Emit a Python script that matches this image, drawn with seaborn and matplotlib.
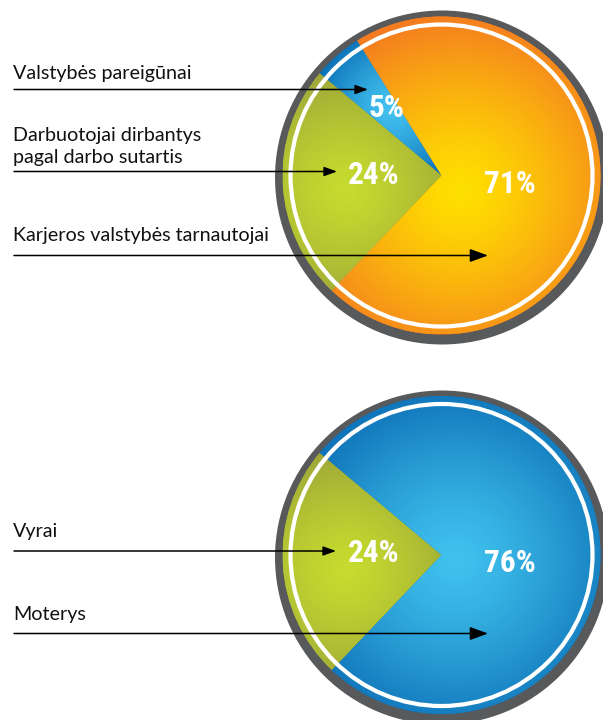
import numpy as np
import matplotlib
matplotlib.use("Agg")
import matplotlib.pyplot as plt
import matplotlib.patches as mpatches
from matplotlib import font_manager
from matplotlib.colors import to_rgb
import seaborn as sns

# ---------------- data ----------------
top_categories = ["Valstybės pareigūnai",
                  "Darbuotojai dirbantys\npagal darbo sutartis",
                  "Karjeros valstybės tarnautojai"]
top_values = [5, 24, 71]
top_inner_colors = ["#43C2F0", "#C6DC2E", "#FFE000"]
top_outer_colors = ["#0A70B6", "#979D3B", "#F47B20"]

bottom_categories = ["Vyrai", "Moterys"]
bottom_values = [24, 76]
bottom_inner_colors = ["#C6DC2E", "#40C2EE"]
bottom_outer_colors = ["#979D3B", "#0C6FB6"]

# ---------------- layout (pixel coords, y down) ----------------
W, H = 603, 720

def Y(y):
    return H - y

sns.set_theme(style="white")

names = {f.name for f in font_manager.fontManager.ttflist}
def pick(cands):
    for c in cands:
        if c in names:
            return c
    return "DejaVu Sans"

label_font = pick(["Lato", "Open Sans", "Noto Sans", "DejaVu Sans"])
pct_font = pick(["Liberation Sans Narrow", "DejaVu Sans Condensed", "Roboto Condensed",
                 "Open Sans Condensed", "Liberation Sans"])
plt.rcParams["font.family"] = [label_font, "DejaVu Sans"]

fig = plt.figure(figsize=(W / 100, H / 100), dpi=100)
fig.patch.set_facecolor("white")
ax = fig.add_axes([0, 0, 1, 1])

PX = 72 / 100  # points per pixel

def gradient_image(ax, clip_patch, gcenter, gradius, c_in, c_out, bbox, z):
    x0, x1, y0, y1 = bbox
    nx, ny = int(x1 - x0) + 1, int(y1 - y0) + 1
    xs = np.linspace(x0, x1, nx)
    ys = np.linspace(y0, y1, ny)
    XX, YY = np.meshgrid(xs, ys)
    d = np.sqrt((XX - gcenter[0]) ** 2 + (YY - gcenter[1]) ** 2) / gradius
    t = np.clip(d, 0, 1) ** 1.3
    ci, co = np.array(to_rgb(c_in)), np.array(to_rgb(c_out))
    img = ci[None, None, :] * (1 - t[..., None]) + co[None, None, :] * t[..., None]
    im = ax.imshow(img, extent=(x0, x1, y0, y1), origin="lower", zorder=z,
                   interpolation="bilinear")
    im.set_clip_path(clip_patch)


def draw_pie(values, inner, outer, center, gray_center, start, gcenters, gradii,
             pct_pos):
    cx, cy = center
    R = 159
    gray = mpatches.Circle(gray_center, 167, facecolor="#58595B", edgecolor="none", zorder=1)
    ax.add_patch(gray)
    wedges, _ = ax.pie(values, colors=outer, startangle=start, counterclock=True,
                       center=center, radius=R, frame=True,
                       wedgeprops=dict(linewidth=0, zorder=2))
    for w, ci, co, gc, gr in zip(wedges, inner, outer, gcenters, gradii):
        gradient_image(ax, w, (gc[0], Y(gc[1])), gr, ci, co,
                       (cx - R, cx + R, cy - R, cy + R), 3)
    ring = mpatches.Circle(center, 151, fill=False, edgecolor="white",
                           linewidth=4.2 * PX, zorder=4)
    ax.add_patch(ring)
    for v, (px, py) in zip(values, pct_pos):
        ax.text(px, Y(py), f"{v}%", color="white", fontsize=22.5,
                fontweight="bold", family=[pct_font, "DejaVu Sans"],
                ha="center", va="baseline", zorder=5)


# top pie: pareigūnai, darbuotojai, karjeros
draw_pie(top_values, top_inner_colors, top_outer_colors,
         center=(441.5, Y(175.5)), gray_center=(442, Y(177.5)), start=122,
         gcenters=[(392, 108), (345, 190), (460, 192)], gradii=[80, 135, 180],
         pct_pos=[(387, 117), (374, 183.5), (510, 193)])

# bottom pie: vyrai, moterys
draw_pie(bottom_values, bottom_inner_colors, bottom_outer_colors,
         center=(441.5, Y(555)), gray_center=(442, Y(557.5)), start=140,
         gcenters=[(345, 570), (455, 560)], gradii=[135, 180],
         pct_pos=[(374, 562), (510, 572)])

# ---------------- left labels and arrows ----------------
# baseline of the last line of each label
label_baselines = [79.5, 163, 241, 537, 620]
arrow_y = [89.5, 171.5, 255.5, 551, 633.5]
arrow_tip = [368, 337, 488, 336, 488]
arrow_big = [False, False, True, False, True]
all_labels = top_categories + bottom_categories

for lab, by, ay, tip, big in zip(all_labels, label_baselines, arrow_y, arrow_tip, arrow_big):
    ax.text(13, Y(by), lab, fontsize=14.2, color="#111111", ha="left", va="baseline",
            linespacing=1.38, zorder=6)
    ms = 20 if big else 14
    ax.annotate("", xy=(tip, Y(ay)), xytext=(14, Y(ay)),
                arrowprops=dict(arrowstyle="-|>,head_length=0.55,head_width=0.2",
                                color="black", lw=1.1, shrinkA=0, shrinkB=0,
                                mutation_scale=ms),
                zorder=7)

ax.set_xlim(0, W)
ax.set_ylim(0, H)
ax.set_aspect("auto")
ax.axis("off")

fig.savefig("out.png", dpi=100, facecolor="white")
